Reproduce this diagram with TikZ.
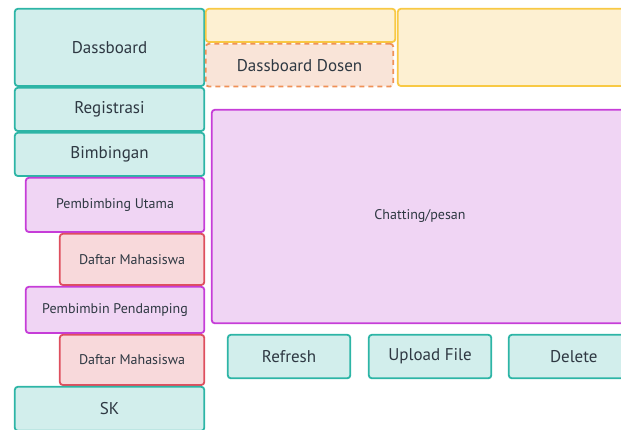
\documentclass[tikz,border=0pt]{standalone}
\usepackage{fontspec}
\setmainfont{PT Sans}
\usetikzlibrary{positioning}
\definecolor{tealfill}{HTML}{D2EEEC}
\definecolor{tealline}{HTML}{2DB5A6}
\definecolor{yelfill}{HTML}{FDF0D2}
\definecolor{yelline}{HTML}{F8C944}
\definecolor{peachfill}{HTML}{F9E4D8}
\definecolor{peachline}{HTML}{EF9157}
\definecolor{purpfill}{HTML}{F0D5F4}
\definecolor{purpline}{HTML}{C63DD8}
\definecolor{redfill}{HTML}{F8D9DB}
\definecolor{redline}{HTML}{DE4F5E}
\definecolor{txt}{HTML}{2E3842}
\tikzset{
    %Define style for boxes
    box/.style={
           rectangle,
           rounded corners=3pt,
           line width=1.8pt,
           inner sep=0pt,
           text=txt,
           font=\fontsize{17}{19}\selectfont},
    menu/.style={
           box,
           draw=tealline,
           fill=tealfill},
    header/.style={
           box,
           draw=yelline,
           fill=yelfill},
    dosen/.style={
           box,
           draw=peachline, dash pattern=on 5pt off 4pt,
           fill=peachfill},
    sub/.style={
           box,
           draw=purpline,
           fill=purpfill,
           font=\fontsize{14}{16}\selectfont},
    mhs/.style={
           box,
           draw=redline,
           fill=redfill,
           font=\fontsize{14}{16}\selectfont}
}
\begin{document}
\begin{tikzpicture}[x=1pt,y=-1pt,node distance=0pt]
\useasboundingbox (0,0) rectangle (621,430);
\clip (0,0) rectangle (621,430);
 %left menu
\node[menu, anchor=north west, minimum width=189.5, minimum height=77.2] (dash) at (13.9,7.9) {Dassboard};
\node[menu, below=of dash, minimum width=189.5, minimum height=43.2] (reg) {Registrasi};
\node[menu, below=of reg, minimum width=189.5, minimum height=43.2] (bimb) {Bimbingan};
\node[sub, below=of bimb.south east, anchor=north east, minimum width=178.5, minimum height=54.2] (utama) {Pembimbing Utama};
\node[mhs, below=of utama.south east, anchor=north east, minimum width=144.5, minimum height=51.2] (mhs1) {Daftar Mahasiswa};
\node[sub, below=of mhs1.south east, anchor=north east, minimum width=178.5, minimum height=46.2] (pendamping) {Pembimbin Pendamping};
\node[mhs, below=of pendamping.south east, anchor=north east, minimum width=144.5, minimum height=50.2] (mhs2) {Daftar Mahasiswa};
\node[menu, below=of mhs2.south east, anchor=north east, minimum width=189.5, minimum height=44] (sk) {SK};
 %header
\node[header, anchor=north west, minimum width=189.5, minimum height=33.2] (head1) at (204.9,7.9) {};
\node[dosen, below=of head1.south west, anchor=north west, minimum width=187.5, minimum height=42.7] (dosen) {Dassboard Dosen};
\node[header, anchor=north west, minimum width=240, minimum height=77.2] (head2) at (396.9,7.9) {};
 %content
\node[sub, anchor=north west, minimum width=430, minimum height=213.5] (chat) at (210.9,108.9) {};
\node[font=\fontsize{14}{16}\selectfont, text=txt] at (420,216) {Chatting/pesan};
\node[menu, anchor=north west, minimum width=122.5, minimum height=43.5] (refresh) at (226.9,333.9) {Refresh};
\node[menu, anchor=north west, minimum width=122.5, minimum height=43.5] (upload) at (367.9,333.9) {Upload File};
\node[menu, anchor=north west, minimum width=130, minimum height=43.5] (delete) at (507.9,333.9) {Delete};
\end{tikzpicture}
\end{document}
